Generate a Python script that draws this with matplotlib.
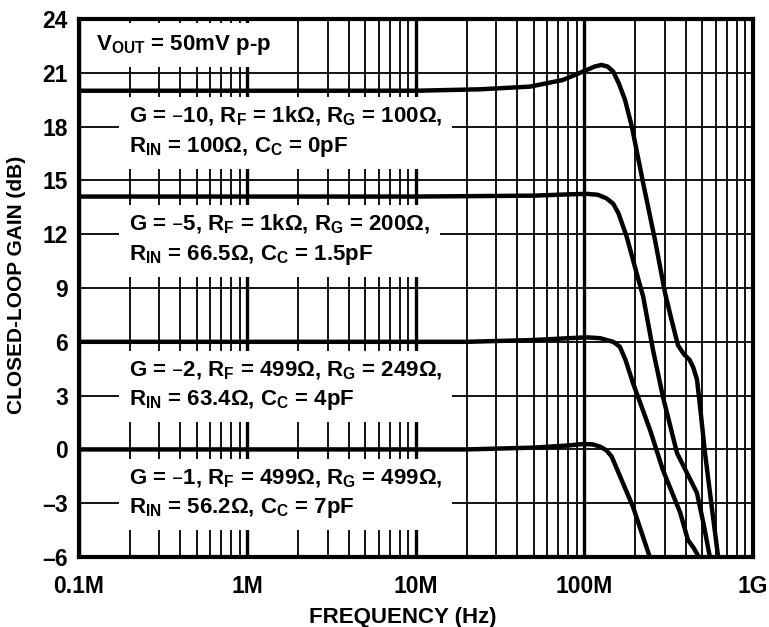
import numpy as np
import matplotlib
matplotlib.use('Agg')
import matplotlib.pyplot as plt
from matplotlib.ticker import FixedLocator, LogLocator, NullFormatter

plt.rcParams['font.family'] = ['Liberation Sans', 'DejaVu Sans']
plt.rcParams['font.weight'] = 'bold'

# Frequency (Hz) and closed-loop gain (dB)
freq_g10 = np.array([0.1, 10, 24, 47.5, 74.5, 98, 115, 126, 137, 148, 160, 174, 191, 223,
                     262, 301, 329, 359, 390, 420, 441, 465, 485, 519, 569, 625]) * 1e6
gain_g10 = [20.0, 20.0, 20.08, 20.23, 20.6, 21.07, 21.35, 21.44, 21.35, 21.07, 20.4, 19.49,
            18.0, 14.84, 11.68, 8.7, 7.2, 5.8, 5.3, 5.0, 4.6, 3.9, 2.4, -0.2, -3.2, -6.2]

freq_g5 = np.array([0.1, 10, 50, 80, 103, 120, 135, 148, 159, 178, 204, 223, 255, 292, 354,
                    420, 465, 510, 560]) * 1e6
gain_g5 = [14.1, 14.1, 14.15, 14.22, 14.25, 14.2, 14.0, 13.7, 13.17, 11.86, 9.82, 8.52, 5.55,
           2.94, -0.2, -1.6, -2.43, -4.2, -6.2]

freq_g2 = np.array([0.1, 20, 50, 80, 103, 124, 148, 162, 175, 194, 245, 292, 369, 411, 445,
                    490]) * 1e6
gain_g2 = [6.0, 6.0, 6.1, 6.2, 6.25, 6.2, 6.0, 5.73, 5.0, 3.7, 1.08, -1.15, -3.5, -5.05,
           -5.5, -6.2]

freq_g1 = np.array([0.1, 20, 50, 80, 98, 112, 124, 135, 145, 194, 248]) * 1e6
gain_g1 = [0.0, 0.0, 0.1, 0.22, 0.3, 0.28, 0.15, -0.05, -0.4, -3.2, -6.2]

curves = [(freq_g10, gain_g10), (freq_g5, gain_g5), (freq_g2, gain_g2), (freq_g1, gain_g1)]

x_ticks = [1e5, 1e6, 1e7, 1e8, 1e9]
x_labels = ['0.1M', '1M', '10M', '100M', '1G']
y_ticks = list(range(-6, 25, 3))
y_labels = [str(v).replace('-', '\u2013') for v in y_ticks]

notes = [
    (0.074, 0.790, 'G = \u201310, R$_\\mathregular{F}$ = 1k\u03a9, R$_\\mathregular{G}$ = 100\u03a9,\n'
                   'R$_\\mathregular{IN}$ = 100\u03a9, C$_\\mathregular{C}$ = 0pF'),
    (0.074, 0.589, 'G = \u20135, R$_\\mathregular{F}$ = 1k\u03a9, R$_\\mathregular{G}$ = 200\u03a9,\n'
                   'R$_\\mathregular{IN}$ = 66.5\u03a9, C$_\\mathregular{C}$ = 1.5pF'),
    (0.074, 0.318, 'G = \u20132, R$_\\mathregular{F}$ = 499\u03a9, R$_\\mathregular{G}$ = 249\u03a9,\n'
                   'R$_\\mathregular{IN}$ = 63.4\u03a9, C$_\\mathregular{C}$ = 4pF'),
    (0.074, 0.117, 'G = \u20131, R$_\\mathregular{F}$ = 499\u03a9, R$_\\mathregular{G}$ = 499\u03a9,\n'
                   'R$_\\mathregular{IN}$ = 56.2\u03a9, C$_\\mathregular{C}$ = 7pF'),
]

fig = plt.figure(figsize=(7.69, 6.27), dpi=100)
ax = fig.add_axes([0.1027, 0.1116, 0.8765, 0.8581])

for f, g in curves:
    ax.plot(f, g, color='black', lw=3.2, solid_joinstyle='round', solid_capstyle='round', zorder=4)

ax.set_xscale('log')
ax.set_xlim(1e5, 1e9)
ax.set_ylim(-6, 24)
ax.xaxis.set_major_locator(FixedLocator(x_ticks))
ax.set_xticklabels(x_labels)
ax.xaxis.set_minor_locator(LogLocator(base=10, subs=np.arange(2, 10)))
ax.xaxis.set_minor_formatter(NullFormatter())
ax.set_yticks(y_ticks)
ax.set_yticklabels(y_labels)

ax.set_axisbelow(True)
ax.grid(axis='x', which='major', color='black', lw=2.4)
ax.grid(axis='x', which='minor', color='black', lw=1.3)
ax.grid(axis='y', which='major', color='black', lw=1.3)

ax.tick_params(which='both', length=0, labelsize=16.5)
ax.tick_params(axis='x', pad=13)
ax.tick_params(axis='y', pad=8)
for s in ax.spines.values():
    s.set_linewidth(3)
    s.set_zorder(6)

ax.set_xlabel('FREQUENCY (Hz)', fontsize=16, fontweight='bold')
ax.xaxis.set_label_coords(0.481, -0.093)
ax.set_ylabel('CLOSED-LOOP GAIN (dB)', fontsize=15, fontweight='bold')
ax.yaxis.set_label_coords(-0.079, 0.505)

box = dict(boxstyle='square,pad=0.45', facecolor='white', edgecolor='none')
ax.text(0.025, 0.952, 'V$_\\mathregular{OUT}$ = 50mV p-p', transform=ax.transAxes, fontsize=16,
        va='center', ha='left', zorder=3, bbox=box)
for x, y, s in notes:
    ax.text(x, y, s, transform=ax.transAxes, fontsize=16, va='center', ha='left',
            linespacing=1.38, zorder=3, bbox=box)

fig.savefig('out.png', dpi=100)
